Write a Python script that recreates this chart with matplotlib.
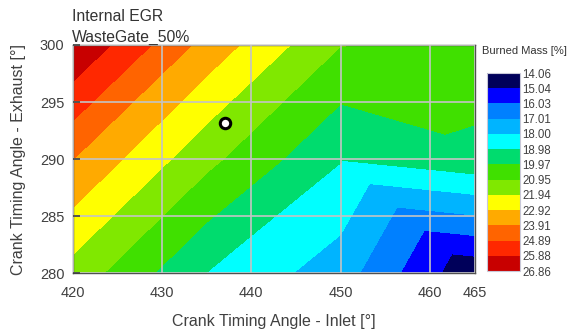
import numpy as np
import matplotlib
matplotlib.use('Agg')
import matplotlib.pyplot as plt
import matplotlib.tri as mtri
from matplotlib.colors import ListedColormap, BoundaryNorm

plt.rcParams['font.family'] = ['Liberation Sans', 'DejaVu Sans']

# 網格資料 (進氣 / 排氣 曲軸角)
inlet = [420, 435, 450, 465]
exhaust = [280, 290, 300]
burned_280 = [21.55, 18.96, 17.47, 14.22]
burned_290 = [23.93, 21.22, 19.03, 19.69]
burned_300 = [26.80, 23.55, 20.97, 20.62]

# 色階
levels = [14.06, 15.04, 16.03, 17.01, 18.00, 18.98, 19.97,
          20.95, 21.94, 22.92, 23.91, 24.89, 25.88, 26.86]
band_colors = ['#00005a', '#0000ff', '#0080ff', '#00b4ff', '#00ffff',
               '#00dc6e', '#40e000', '#80e800', '#ffff00', '#ffaa00',
               '#ff6400', '#ff2800', '#c80000']

# 運轉點
op_inlet = [437]
op_exhaust = [293.2]

xticks = [420, 430, 440, 450, 460, 465]
yticks = [280, 285, 290, 295, 300]

# 三角網格
X, Y = np.meshgrid(inlet, exhaust)
Z = np.array([burned_280, burned_290, burned_300])
nx = len(inlet)
triangles = []
for j in range(len(exhaust) - 1):
    for i in range(nx - 1):
        bl = j * nx + i
        br = bl + 1
        tl = bl + nx
        tr = tl + 1
        if i < 2:
            triangles += [[bl, br, tr], [bl, tr, tl]]
        else:
            triangles += [[bl, br, tl], [tl, br, tr]]
tri = mtri.Triangulation(X.ravel(), Y.ravel(), triangles)

cmap = ListedColormap(band_colors)
norm = BoundaryNorm(levels, cmap.N)

fig = plt.figure(figsize=(5.75, 3.31), dpi=100)
ax = fig.add_axes([72.7 / 575, 1 - 273.3 / 331, 401.9 / 575, 228.3 / 331])
cf = ax.tricontourf(tri, Z.ravel(), levels=levels, cmap=cmap, norm=norm)
ax.plot(op_inlet, op_exhaust, 'o', ms=7.5, mfc='white', mec='black', mew=2.2, zorder=5)

ax.set_xlim(420, 465)
ax.set_ylim(280, 300)
ax.set_xticks(xticks)
ax.set_yticks(yticks)
ax.set_axisbelow(False)
ax.grid(True, color='#c4c4c4', lw=1.2)
ax.tick_params(axis='both', labelsize=10.5, colors='#404040', labelcolor='#404040')
ax.tick_params(axis='y', direction='in', length=5, width=1.2, pad=6)
ax.tick_params(axis='x', direction='in', length=0, pad=9)
for s in ax.spines.values():
    s.set_color('#505050')
    s.set_linewidth(1)

ax.set_xlabel('Crank Timing Angle - Inlet [°]', fontsize=11.5, color='#404040', labelpad=10)
ax.set_ylabel('Crank Timing Angle - Exhaust [°]', fontsize=11.5, color='#404040', labelpad=10)

fig.text(72 / 575, 1 - 21 / 331, 'Internal EGR', fontsize=11.3, color='#333333', va='baseline')
fig.text(72 / 575, 1 - 41.5 / 331, 'WasteGate_50%', fontsize=11.3, color='#333333', va='baseline')

# 色條
cax = fig.add_axes([487 / 575, 1 - 271 / 331, 33 / 575, 198 / 331])
cb = fig.colorbar(cf, cax=cax, ticks=levels)
cax.invert_yaxis()
cb.ax.set_yticklabels([f'{v:.2f}' for v in levels])
cax.tick_params(length=0, labelsize=8.3, pad=1.5, colors='#404040')
cb.outline.set_edgecolor('#c8c8d8')
cb.outline.set_linewidth(0.8)
fig.text(482 / 575, 1 - 51 / 331, 'Burned Mass [%]', fontsize=8, color='#333333', va='center')

fig.savefig('out.png', dpi=100)
